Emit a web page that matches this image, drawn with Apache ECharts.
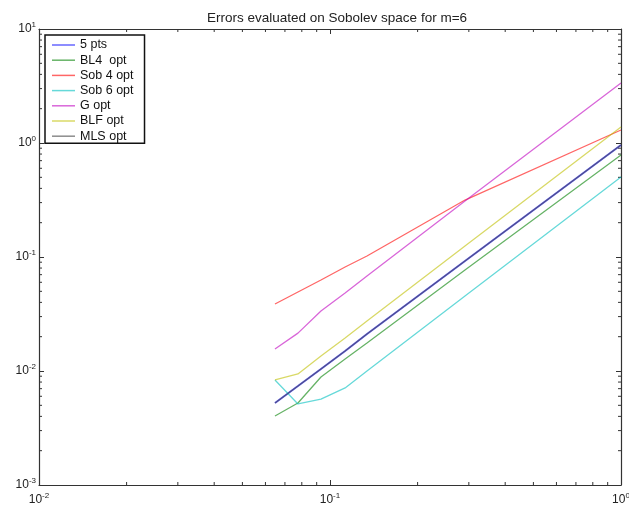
<!DOCTYPE html>
<html>
<head>
<meta charset="utf-8">
<script src="https://cdn.jsdelivr.net/npm/echarts@6/dist/echarts.min.js"></script>
<style>
  html, body { margin: 0; padding: 0; background: #fff; }
  #chart { width: 629px; height: 510px; }
</style>
</head>
<body>
<div id="chart"></div>
<script>
// step sizes (x) and errors of each method
const xValues = [0.0647, 0.0776, 0.0931, 0.1127, 0.134, 0.291, 1]
const pts5 = [0.00524, 0.00738, 0.01042, 0.01496, 0.0211, 0.0923, 0.96]
const bl4Opt = [0.00403, 0.00524, 0.00885, 0.01274, 0.01762, 0.0769, 0.785]
const sob4Opt = [0.0387, 0.0493, 0.0628, 0.0817, 0.102, 0.316, 1.30]
const sob6Opt = [0.00834, 0.00514, 0.00567, 0.0071, 0.0100, 0.0455, 0.504]
const gOpt = [0.0156, 0.0215, 0.0336, 0.0483, 0.0681, 0.310, 3.36]
const blfOpt = [0.00834, 0.00942, 0.01355, 0.01945, 0.02747, 0.1248, 1.38]
const mlsOpt = [0.00524, 0.00738, 0.01042, 0.01496, 0.0211, 0.0923, 0.96]

const minorTicksX = [0.02, 0.03, 0.04, 0.05, 0.06, 0.07, 0.08, 0.09,
  0.2, 0.3, 0.4, 0.5, 0.6, 0.7, 0.8, 0.9]
const minorTicksY = [0.002, 0.003, 0.004, 0.005, 0.006, 0.007, 0.008, 0.009,
  0.02, 0.03, 0.04, 0.05, 0.06, 0.07, 0.08, 0.09,
  0.2, 0.3, 0.4, 0.5, 0.6, 0.7, 0.8, 0.9,
  2, 3, 4, 5, 6, 7, 8, 9]

const axisColor = '#333'
const font = 'Liberation Sans'

function powLabel(v) {
  const e = Math.round(Math.log10(v))
  return '{b|10}{e|' + e + '}'
}

const labelRich = {
  b: { fontSize: 12, color: '#222', fontFamily: font },
  e: { fontSize: 8, color: '#222', fontFamily: font, padding: [0, 0, 8, 0] },
}

function lineSeries(name, values, color, width, opacity) {
  return {
    name: name,
    type: 'line',
    data: xValues.map((x, i) => [x, values[i]]),
    symbol: 'none',
    lineStyle: { color: color, width: width, opacity: opacity },
    itemStyle: { color: color, opacity: opacity },
    z: 3,
  }
}

function tickSeries(data, isX) {
  return {
    type: 'custom',
    silent: true,
    clip: false,
    z: 1,
    data: data.map((v) => (isX ? [v, 1] : [0.1, v])),
    renderItem(params, api) {
      const cs = params.coordSys
      const p = api.coord([api.value(0), api.value(1)])
      const len = 3
      const style = { stroke: axisColor, lineWidth: 1 }
      const shapes = isX
        ? [[p[0], cs.y + cs.height, p[0], cs.y + cs.height - len], [p[0], cs.y, p[0], cs.y + len]]
        : [[cs.x, p[1], cs.x + len, p[1]], [cs.x + cs.width, p[1], cs.x + cs.width - len, p[1]]]
      return {
        type: 'group',
        children: shapes.map((s) => ({
          type: 'line',
          shape: { x1: s[0], y1: s[1], x2: s[2], y2: s[3] },
          style: style,
        })),
      }
    },
  }
}

const chart = echarts.init(document.getElementById('chart'))

chart.setOption({
  animation: false,
  title: {
    text: 'Errors evaluated on Sobolev space for m=6',
    left: 202,
    top: 6,
    textStyle: { fontSize: 13.5, fontWeight: 'normal', color: '#222', fontFamily: font },
  },
  legend: {
    data: ['5 pts', 'BL4  opt', 'Sob 4 opt', 'Sob 6 opt', 'G opt', 'BLF opt', 'MLS opt'],
    orient: 'vertical',
    left: 45,
    top: 35,
    padding: [3, 11, 0, 7],
    icon: 'rect',
    itemWidth: 23,
    itemHeight: 1.5,
    itemGap: 1.2,
    borderColor: '#111',
    borderWidth: 1.5,
    backgroundColor: '#fff',
    textStyle: { fontSize: 12.5, lineHeight: 14, color: '#111', fontFamily: font },
  },
  grid: { left: 39, right: 8, top: 29, bottom: 25, outerBoundsMode: 'none', containLabel: false },
  xAxis: [
    {
      type: 'log',
      logBase: 10,
      min: 0.01,
      max: 1,
      axisLine: { lineStyle: { color: axisColor, width: 1.2 } },
      axisTick: { inside: true, length: 5, lineStyle: { color: axisColor } },
      splitLine: { show: false },
      axisLabel: { formatter: powLabel, rich: labelRich, margin: 7 },
    },
    {
      type: 'log',
      logBase: 10,
      min: 0.01,
      max: 1,
      position: 'top',
      axisLine: { lineStyle: { color: axisColor, width: 1.2 } },
      axisTick: { inside: true, length: 5, lineStyle: { color: axisColor } },
      splitLine: { show: false },
      axisLabel: { show: false },
    },
  ],
  yAxis: [
    {
      type: 'log',
      logBase: 10,
      min: 0.001,
      max: 10,
      axisLine: { lineStyle: { color: axisColor, width: 1.2 } },
      axisTick: { inside: true, length: 5, lineStyle: { color: axisColor } },
      splitLine: { show: false },
      axisLabel: { formatter: powLabel, rich: labelRich, margin: 3 },
    },
    {
      type: 'log',
      logBase: 10,
      min: 0.001,
      max: 10,
      position: 'right',
      axisLine: { lineStyle: { color: axisColor, width: 1.2 } },
      axisTick: { inside: true, length: 5, lineStyle: { color: axisColor } },
      splitLine: { show: false },
      axisLabel: { show: false },
    },
  ],
  series: [
    lineSeries('5 pts', pts5, '#0000ff', 2, 0.6),
    lineSeries('BL4  opt', bl4Opt, '#008000', 1.3, 0.6),
    lineSeries('Sob 4 opt', sob4Opt, '#ff0000', 1.3, 0.6),
    lineSeries('Sob 6 opt', sob6Opt, '#00bfbf', 1.3, 0.6),
    lineSeries('G opt', gOpt, '#bf00bf', 1.3, 0.6),
    lineSeries('BLF opt', blfOpt, '#bfbf00', 1.3, 0.6),
    lineSeries('MLS opt', mlsOpt, '#404040', 1.3, 0.6),
    tickSeries(minorTicksX, true),
    tickSeries(minorTicksY, false),
  ],
})
</script>
</body>
</html>
